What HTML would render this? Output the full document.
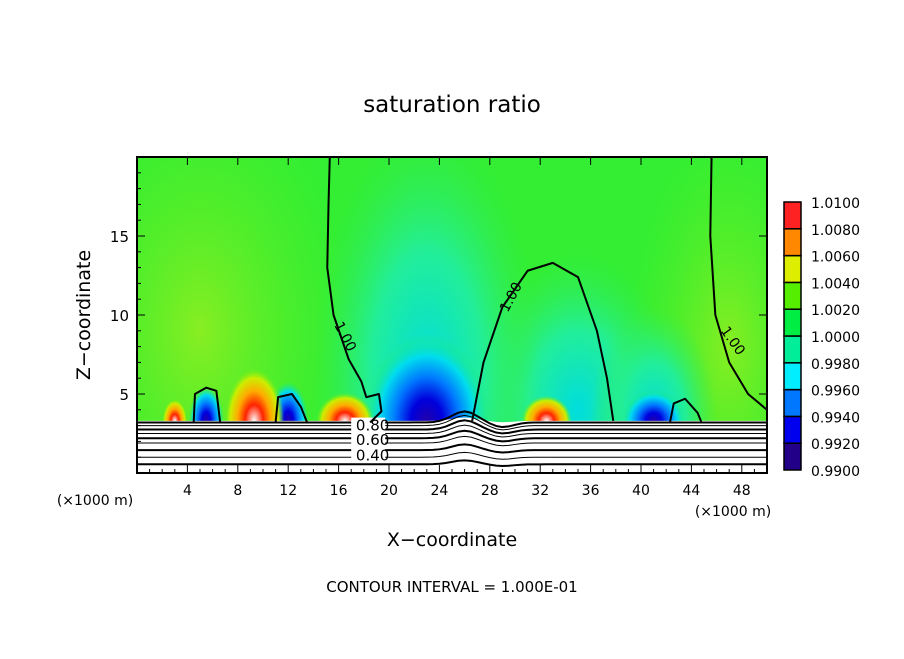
<!DOCTYPE html>
<html><head><meta charset="utf-8"><style>
body{margin:0;background:#fff;font-family:"Liberation Sans",sans-serif}
svg text{font-family:"DejaVu Sans","Liberation Sans",sans-serif}
</style></head><body>
<svg id="c" width="904" height="654" viewBox="0 0 904 654">
<defs>
<clipPath id="pc"><rect x="137" y="157" width="630" height="316"/></clipPath>
<radialGradient id="rb" cx="0.5" cy="0.5" r="0.5"><stop offset="0" stop-color="#2200aa"/><stop offset="0.25" stop-color="#0000dd"/><stop offset="0.5" stop-color="#0077ff"/><stop offset="0.75" stop-color="#00ddee"/><stop offset="1" stop-color="#22ee66" stop-opacity="0"/></radialGradient>
<radialGradient id="rr" cx="0.5" cy="0.5" r="0.5"><stop offset="0" stop-color="#ffffff"/><stop offset="0.3" stop-color="#ff2200"/><stop offset="0.55" stop-color="#ffaa00"/><stop offset="0.8" stop-color="#ccee00"/><stop offset="1" stop-color="#55ee22" stop-opacity="0"/></radialGradient>
<radialGradient id="rc" cx="0.5" cy="0.5" r="0.5"><stop offset="0" stop-color="#00dddd"/><stop offset="0.5" stop-color="#22ee99"/><stop offset="1" stop-color="#33ee55" stop-opacity="0"/></radialGradient>
<radialGradient id="ry" cx="0.5" cy="0.5" r="0.5"><stop offset="0" stop-color="#88ee22"/><stop offset="1" stop-color="#55ee22" stop-opacity="0"/></radialGradient>
</defs>
<text x="452" y="112" font-size="23" text-anchor="middle">saturation ratio</text>
<g id="plot"></g>
<text x="452" y="546" font-size="19" text-anchor="middle">X−coordinate</text>
<text transform="translate(90,315) rotate(-90)" font-size="19" text-anchor="middle">Z−coordinate</text>
<text x="95" y="505" font-size="14" text-anchor="middle">(×1000 m)</text>
<text x="733" y="516" font-size="14" text-anchor="middle">(×1000 m)</text>
<text x="452" y="592" font-size="15" text-anchor="middle">CONTOUR INTERVAL = 1.000E-01</text>
<g id="cbar"></g>
</svg>
<script>
const xTicks=[4,8,12,16,20,24,28,32,36,40,44,48];
const yTicks=[5,10,15];
const cbLevels=["0.9900","0.9920","0.9940","0.9960","0.9980","1.0000","1.0020","1.0040","1.0060","1.0080","1.0100"];
const cbColors=["#220088","#0000ee","#0077ff","#00eeff","#00ee99","#00ee44","#55ee00","#ddee00","#ff8800","#ff2222"];
const contourLeft=[[15.3,20],[15.2,17],[15.1,13],[15.6,10],[16.8,7.2],[17.8,5.8],[18.2,4.8],[19.2,5],[19.4,3.9],[18.5,3.2]];
const contourArch=[[26.6,3.3],[27.5,7],[29,10.5],[31,12.8],[33,13.3],[35,12.4],[36.5,9],[37.3,6],[37.8,3.3]];
const contourRight=[[45.6,20],[45.5,15],[45.9,10],[47,7],[48.5,5],[50,4]];
const blob1=[[4.5,3.2],[4.6,5],[5.5,5.4],[6.3,5.2],[6.6,3.2]];
const blob2=[[11,3.2],[11.2,4.8],[12.3,5],[13,4.2],[13.5,3.2]];
const blob3=[[42.3,3.2],[42.6,4.4],[43.5,4.7],[44.5,3.8],[44.8,3.2]];
const lowLevels=[3.2,3.0,2.75,2.5,2.2,1.9,1.45,1.0,0.55];
const X0=137,X1=767,Y0=473,Y1=157;
const sx=v=>X0+v/50*(X1-X0), sy=v=>Y0-v/20*(Y0-Y1);
const NS="http://www.w3.org/2000/svg";
function mk(t,a,p){const e=document.createElementNS(NS,t);for(const k in a)e.setAttribute(k,a[k]);p.appendChild(e);return e;}
const g0=document.getElementById('plot');
const g=mk('g',{'clip-path':'url(#pc)'},g0);
mk('rect',{x:X0,y:Y1,width:X1-X0,height:Y0-Y1,fill:'#33ee33'},g);
// field blobs: [x, z, gradient, half-width km, height km]
const blobs=[[5,9,'url(#ry)',12,16],[47,8,'url(#ry)',8,14],[35,4,'url(#rc)',8,10],[23,6,'url(#rc)',9,16],[41,3.5,'url(#rc)',5,7],
[23,3.3,'url(#rb)',5,5.5],[41,3.3,'url(#rb)',2.5,2],[12,3.3,'url(#rb)',1.6,2.5],[5.5,3.3,'url(#rb)',1.4,2.2],
[9.3,3.3,'url(#rr)',2.4,3.4],[16.5,3.3,'url(#rr)',2.3,1.8],[32.5,3.3,'url(#rr)',2,1.6],[3,3.3,'url(#rr)',1,1.4]];
blobs.forEach(b=>{const e=mk('ellipse',{cx:sx(b[0]),cy:sy(b[1]),rx:b[3]/50*630,ry:b[4]/20*316,fill:b[2]},g);

});
const bump=x=>0.7*Math.exp(-((x-26)**2)/2)-0.3*Math.exp(-((x-29)**2)/1.5);
let pts=[];for(let x=0;x<=50;x+=0.5)pts.push(sx(x)+','+sy(3.3+bump(x)*0.3));
mk('polygon',{points:pts.join(' ')+' '+X1+','+Y0+' '+X0+','+Y0,fill:'#fff'},g);
lowLevels.forEach((lv,i)=>{let p=[];for(let x=0;x<=50;x+=0.5)p.push(sx(x)+','+sy(lv+bump(x)*(1-i*0.08)));
const e=mk('polyline',{points:p.join(' '),fill:'none',stroke:'#000','stroke-width':i%2?1:2},g);

});
[['0.80',3.0],['0.60',2.1],['0.40',1.1]].forEach(l=>{mk('rect',{x:sx(17),y:sy(l[1])-8,width:34,height:14,fill:'#fff'},g);
const t=mk('text',{x:sx(18.7),y:sy(l[1])+5,'font-size':15,'text-anchor':'middle'},g);t.textContent=l[0];

});
[contourLeft,contourArch,contourRight,blob1,blob2,blob3].forEach(c=>{
const e=mk('polyline',{points:c.map(p=>sx(p[0])+','+sy(p[1])).join(' '),fill:'none',stroke:'#000','stroke-width':2,'stroke-linejoin':'round'},g);

});
[[16.2,8.5,62],[30,11,-62],[47,8.2,55]].forEach(l=>{const t=mk('text',{x:sx(l[0]),y:sy(l[1]),'font-size':14,'text-anchor':'middle',transform:`rotate(${l[2]} ${sx(l[0])} ${sy(l[1])})`},g);t.textContent='1.00';

});
mk('rect',{x:X0,y:Y1,width:X1-X0,height:Y0-Y1,fill:'none',stroke:'#000','stroke-width':2},g0);
xTicks.forEach(v=>{mk('line',{x1:sx(v),x2:sx(v),y1:Y0,y2:Y0-8,stroke:'#000'},g0);mk('line',{x1:sx(v),x2:sx(v),y1:Y1,y2:Y1+8,stroke:'#000'},g0);
const t=mk('text',{x:sx(v),y:Y0+22,'font-size':14,'text-anchor':'middle'},g0);t.textContent=v;

});
for(let v=1;v<50;v++)if(v%4)mk('line',{x1:sx(v),x2:sx(v),y1:Y0,y2:Y0-4,stroke:'#000'},g0);
yTicks.forEach(v=>{mk('line',{x1:X0,x2:X0+8,y1:sy(v),y2:sy(v),stroke:'#000'},g0);mk('line',{x1:X1,x2:X1-8,y1:sy(v),y2:sy(v),stroke:'#000'},g0);
const t=mk('text',{x:X0-8,y:sy(v)+6,'font-size':15,'text-anchor':'end'},g0);t.textContent=v;

});
for(let v=1;v<20;v++)if(v%5)mk('line',{x1:X0,x2:X0+4,y1:sy(v),y2:sy(v),stroke:'#000'},g0);
const cb=document.getElementById('cbar');const cT=202,cB=470,n=cbLevels.length-1,cy=i=>cB-i*(cB-cT)/n;
for(let i=0;i<n;i++){const e=mk('rect',{x:784,y:cy(i+1),width:17,height:cy(i)-cy(i+1),fill:cbColors[i],stroke:'#000','stroke-width':1.5},cb);

}
cbLevels.forEach((l,i)=>{const t=mk('text',{x:811,y:cy(i)+6,'font-size':14},cb);t.textContent=l;

});
</script>
</body></html>
